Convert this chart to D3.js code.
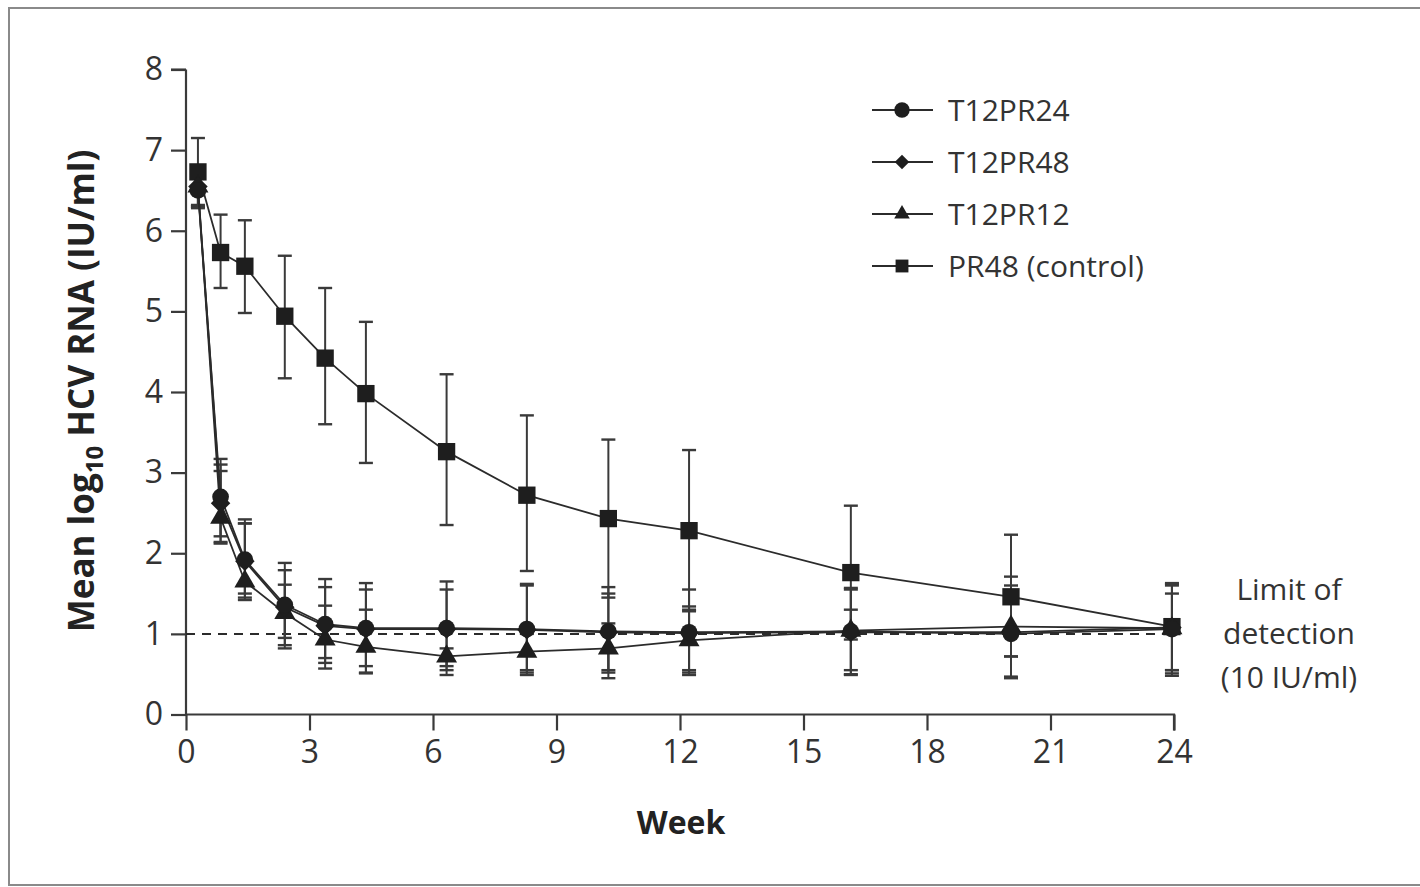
<!DOCTYPE html>
<html>
<head>
<meta charset="utf-8">
<script src="https://cdn.jsdelivr.net/npm/d3@7"></script>
<style>
  body { margin: 0; background: #fff; }
  svg text { font-family: "Open Sans", "DejaVu Sans", sans-serif; fill: #333; }
</style>
</head>
<body>
<svg id="chart" width="1420" height="887"></svg>
<script>
// weeks
const weeks = [0.29, 0.84, 1.43, 2.40, 3.38, 4.37, 6.33, 8.28, 10.26, 12.22, 16.15, 20.04, 23.95];

// PR48 (control)
const pr48 = [6.73, 5.73, 5.56, 4.94, 4.42, 3.98, 3.26, 2.72, 2.43, 2.28, 1.76, 1.46, 1.09];
const pr48Hi = [7.15, 6.20, 6.13, 5.69, 5.29, 4.87, 4.22, 3.71, 3.41, 3.28, 2.59, 2.23, 1.63];
const pr48Lo = [6.30, 5.29, 4.98, 4.17, 3.60, 3.12, 2.35, 1.78, 1.45, 1.28, 0.93, 0.72, 0.55];

// T12PR24
const t12pr24 = [6.50, 2.70, 1.92, 1.36, 1.12, 1.07, 1.07, 1.06, 1.03, 1.02, 1.03, 1.00, 1.06];
const t12pr24Hi = [6.75, 3.17, 2.42, 1.88, 1.68, 1.63, 1.65, 1.62, 1.58, 1.55, 1.57, 1.71, 1.62];
const t12pr24Lo = [6.28, 2.21, 1.42, 0.82, 0.57, 0.51, 0.49, 0.49, 0.45, 0.49, 0.49, 0.45, 0.48];

// T12PR48
const t12pr48 = [6.55, 2.62, 1.90, 1.33, 1.10, 1.06, 1.06, 1.05, 1.02, 1.01, 1.02, 1.02, 1.08];
const t12pr48Hi = [6.80, 3.10, 2.37, 1.79, 1.58, 1.55, 1.55, 1.60, 1.50, 1.34, 1.55, 1.60, 1.60];
const t12pr48Lo = [6.32, 2.14, 1.50, 0.86, 0.64, 0.60, 0.60, 0.52, 0.52, 0.52, 0.50, 0.47, 0.51];

// T12PR12
const t12pr12 = [6.55, 2.44, 1.65, 1.26, 0.93, 0.84, 0.72, 0.78, 0.82, 0.92, 1.04, 1.09, 1.07];
const t12pr12Hi = [6.78, 3.02, 2.37, 1.61, 1.35, 1.30, 0.82, 1.00, 1.13, 1.30, 1.30, 1.50, 1.50];
const t12pr12Lo = [6.30, 2.12, 1.45, 0.95, 0.70, 0.52, 0.55, 0.55, 0.55, 0.55, 0.55, 0.72, 0.55];

const xTicks = [0, 3, 6, 9, 12, 15, 18, 21, 24];
const yTicks = [0, 1, 2, 3, 4, 5, 6, 7, 8];
const legendNames = ["T12PR24", "T12PR48", "T12PR12", "PR48 (control)"];
const limitOfDetection = 1;
const limitLabel = ["Limit of", "detection", "(10 IU/ml)"];

const ink = "#2b2b2b";
const svg = d3.select("#chart");

// outer frame
svg.append("rect")
  .attr("x", 9).attr("y", 8)
  .attr("width", 1430).attr("height", 877)
  .attr("fill", "none").attr("stroke", "#8a8a8a").attr("stroke-width", 2);

const x = d3.scaleLinear().domain([0, 24]).range([186, 1174]);
const y = d3.scaleLinear().domain([0, 8]).range([714.5, 69.5]);

// axes
const yAxis = svg.append("g")
  .attr("transform", `translate(${x(0)},0)`)
  .call(d3.axisLeft(y).tickValues(yTicks).tickSize(15).tickPadding(8).tickFormat(d3.format("d")));
const xAxis = svg.append("g")
  .attr("transform", `translate(0,${y(0)})`)
  .call(d3.axisBottom(x).tickValues(xTicks).tickSize(16).tickPadding(10).tickFormat(d3.format("d")));

[yAxis, xAxis].forEach(g => {
  g.select(".domain").attr("stroke", "#3a3a3a").attr("stroke-width", 2.2);
  g.selectAll(".tick line").attr("stroke", "#3a3a3a").attr("stroke-width", 2.2);
  g.selectAll(".tick text").attr("font-size", 32).style("fill", "#333");
});
// keep the domain ends flush (no outer tick stubs)
yAxis.select(".domain").attr("d", `M0,${y(8)}H-15M0,${y(8)}V${y(0)}`);
xAxis.select(".domain").attr("d", `M${x(0)},0H${x(24)}V16`);

const series = [
  { name: "PR48 (control)", v: pr48, hi: pr48Hi, lo: pr48Lo, sym: "square" },
  { name: "T12PR12", v: t12pr12, hi: t12pr12Hi, lo: t12pr12Lo, sym: "triangle" },
  { name: "T12PR48", v: t12pr48, hi: t12pr48Hi, lo: t12pr48Lo, sym: "diamond" },
  { name: "T12PR24", v: t12pr24, hi: t12pr24Hi, lo: t12pr24Lo, sym: "circle" }
];

function symbolPath(sym, scale) {
  if (sym === "circle") return d3.symbol(d3.symbolCircle, 220 * scale)();
  if (sym === "diamond") return d3.symbol(d3.symbolSquare, 190 * scale)();
  if (sym === "triangle") return d3.symbol(d3.symbolTriangle, 190 * scale)();
  return d3.symbol(d3.symbolSquare, 300 * scale)();
}

const line = d3.line()
  .x(d => x(d[0]))
  .y(d => y(d[1]));

// white casing under the treatment lines, drawn first so error bars stay intact
series.filter(s => s.sym !== "square").forEach(s => {
  svg.append("path").datum(weeks.map((w, i) => [w, s.v[i]])).attr("d", line)
    .attr("fill", "none").attr("stroke", "#fff").attr("stroke-width", 4);
});

// limit of detection
svg.append("line")
  .attr("x1", x(0)).attr("x2", x(24))
  .attr("y1", y(limitOfDetection)).attr("y2", y(limitOfDetection))
  .attr("stroke", ink).attr("stroke-width", 2).attr("stroke-dasharray", "9,7");

const limitText = svg.append("text")
  .attr("text-anchor", "middle")
  .attr("font-size", 30);
limitLabel.forEach((t, i) => {
  limitText.append("tspan").attr("x", 1289).attr("y", 600 + i * 44).text(t);
});

// error bars
series.forEach(s => {
  const g = svg.append("g");
  const cap = 7;
  weeks.forEach((w, i) => {
    const cx = x(w);
    g.append("line").attr("x1", cx).attr("x2", cx)
      .attr("y1", y(s.hi[i])).attr("y2", y(s.lo[i]))
      .attr("stroke", "#3a3a3a").attr("stroke-width", 2);
    [s.hi[i], s.lo[i]].forEach(e => {
      g.append("line").attr("x1", cx - cap).attr("x2", cx + cap)
        .attr("y1", y(e)).attr("y2", y(e))
        .attr("stroke", "#3a3a3a").attr("stroke-width", 2.4);
    });
  });
});

// lines and markers
series.forEach(s => {
  svg.append("path").datum(weeks.map((w, i) => [w, s.v[i]])).attr("d", line)
    .attr("fill", "none").attr("stroke", ink).attr("stroke-width", 1.8);
});
series.forEach(s => {
  svg.append("g").selectAll("path")
    .data(weeks.map((w, i) => [w, s.v[i]]))
    .join("path")
    .attr("d", symbolPath(s.sym, 1))
    .attr("transform", d => `translate(${x(d[0])},${y(d[1])})` + (s.sym === "diamond" ? " rotate(45)" : ""))
    .attr("fill", "#1e1e1e");
});

// legend
const legend = svg.append("g");
legendNames.forEach((name, i) => {
  const s = series.find(d => d.name === name);
  const ly = 110 + i * 52;
  legend.append("line")
    .attr("x1", 872).attr("x2", 933).attr("y1", ly).attr("y2", ly)
    .attr("stroke", ink).attr("stroke-width", 2);
  legend.append("path")
    .attr("d", symbolPath(s.sym, s.sym === "circle" ? 0.85 : 0.55))
    .attr("transform", `translate(902,${ly})` + (s.sym === "diamond" ? " rotate(45)" : ""))
    .attr("fill", "#1e1e1e");
  legend.append("text")
    .attr("x", 948).attr("y", ly).attr("dy", "0.36em")
    .attr("font-size", 30)
    .text(name);
});

// axis titles
svg.append("text")
  .attr("x", 681).attr("y", 834)
  .attr("text-anchor", "middle")
  .attr("font-size", 32).attr("font-weight", "bold")
  .style("fill", "#222")
  .text("Week");

const yTitle = svg.append("text")
  .attr("transform", "translate(94,391) rotate(-90)")
  .attr("text-anchor", "middle")
  .attr("font-size", 35).attr("font-weight", "bold")
  .style("fill", "#222");
yTitle.append("tspan").text("Mean log");
yTitle.append("tspan").attr("font-size", 24).attr("dy", 9).text("10");
yTitle.append("tspan").attr("dy", -9).text(" HCV RNA (IU/ml)");
</script>
</body>
</html>
